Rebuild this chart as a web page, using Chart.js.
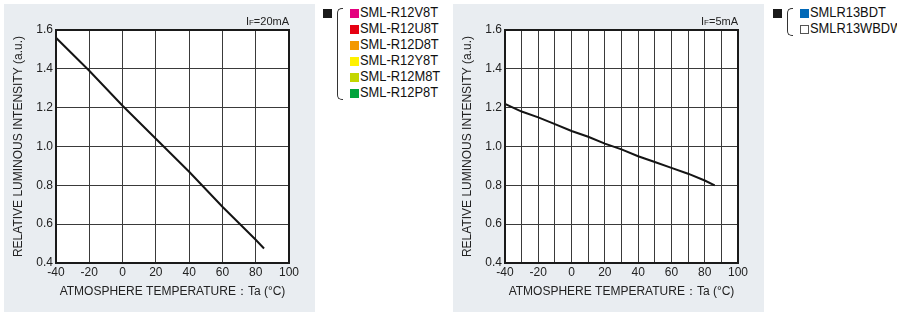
<!DOCTYPE html>
<html><head><meta charset="utf-8">
<script src="https://cdn.jsdelivr.net/npm/chart.js@4/dist/chart.umd.min.js"></script>
<style>
html,body{margin:0;padding:0;background:#fff;width:897px;height:314px;overflow:hidden;position:relative;font-family:"Liberation Sans",Arial,sans-serif;}
.panel{position:absolute;background:#e9edf1;}
.panel canvas{display:block;}
.legend{position:absolute;font-size:14px;color:#111;}
.legend .row{position:absolute;white-space:nowrap;height:16px;line-height:16px;transform:scaleX(0.92);transform-origin:left center;}
.sq{position:absolute;width:9px;height:9px;}
.bracket{position:absolute;border:1px solid #333;border-right:none;border-radius:5px 0 0 5px;width:5px;}
</style></head><body>
<div class="panel" style="left:4px;top:4px;width:311px;height:308px;"><canvas id="c1" width="311" height="308"></canvas></div>
<div class="panel" style="left:453px;top:4px;width:311px;height:308px;"><canvas id="c2" width="311" height="308"></canvas></div>
<div id="leg1" class="legend" style="left:0;top:0;"></div>
<div id="leg2" class="legend" style="left:0;top:0;"></div>
<script>
// ---- data ----
const tempsA = [-40, -20, 0, 20, 40, 60, 80, 85];
const intensityA = [1.56, 1.39, 1.21, 1.04, 0.87, 0.69, 0.52, 0.475];
const tempsB = [-40, -30, -20, -10, 0, 10, 20, 30, 40, 50, 60, 70, 80, 86];
const intensityB = [1.22, 1.18, 1.15, 1.115, 1.08, 1.05, 1.015, 0.985, 0.95, 0.92, 0.89, 0.86, 0.825, 0.80];
const xTickLabels = [-40, -20, 0, 20, 40, 60, 80, 100];
const xGridA = [-40, -20, 0, 20, 40, 60, 80, 100];
const xGridB = [-40, -30, -20, -10, 0, 10, 20, 30, 40, 50, 60, 70, 80, 90, 100];
const yTickLabels = [0.4, 0.6, 0.8, 1.0, 1.2, 1.4, 1.6];
const legendA = ['SML-R12V8T', 'SML-R12U8T', 'SML-R12D8T', 'SML-R12Y8T', 'SML-R12M8T', 'SML-R12P8T'];
const legendAColors = ['#e4007f', '#e60012', '#f39800', '#fff100', '#c3d600', '#00a43c'];
const legendB = ['SMLR13BDT', 'SMLR13WBDW'];
const legendBColors = ['#0068b7', '#ffffff'];
const currentA = ['I', 'F', '=20mA'];
const currentB = ['I', 'F', '=5mA'];
const xTitle = 'ATMOSPHERE TEMPERATURE\uFF1ATa (\u00B0C)';
const yTitle = 'RELATIVE LUMINOUS INTENSITY (a.u.)';

const FONT = '"Liberation Sans", Arial, sans-serif';

const framePlugin = {
  id: 'frame',
  beforeDraw(chart) {
    const a = chart.chartArea, ctx = chart.ctx;
    ctx.save(); ctx.fillStyle = '#ffffff';
    ctx.fillRect(a.left, a.top, a.right - a.left, a.bottom - a.top);
    ctx.restore();
  },
  afterDraw(chart) {
    const a = chart.chartArea, ctx = chart.ctx;
    ctx.save(); ctx.strokeStyle = '#1a1a1a'; ctx.lineWidth = 2;
    ctx.strokeRect(a.left, a.top, a.right - a.left, a.bottom - a.top);
    const parts = chart.options.plugins.frame.label;
    ctx.fillStyle = '#222'; ctx.textBaseline = 'alphabetic';
    ctx.font = '11px ' + FONT;
    const w0 = ctx.measureText(parts[0]).width;
    const w2 = ctx.measureText(parts[2]).width;
    ctx.font = '8px ' + FONT;
    const w1 = ctx.measureText(parts[1]).width;
    let x = a.right - (w0 + w1 + w2);
    const y = a.top - 5;
    ctx.font = '11px ' + FONT; ctx.textAlign = 'left';
    ctx.fillText(parts[0], x, y); x += w0;
    ctx.font = '8px ' + FONT; ctx.fillText(parts[1], x, y); x += w1;
    ctx.font = '11px ' + FONT; ctx.fillText(parts[2], x, y);
    ctx.restore();
  }
};

function makeChart(id, xs, ys, grid, label) {
  return new Chart(document.getElementById(id), {
    type: 'line',
    data: { datasets: [{ data: xs.map((x, i) => ({ x: x, y: ys[i] })), borderColor: '#141414', borderWidth: 2, pointRadius: 0, tension: 0, fill: false }] },
    options: {
      responsive: false, animation: false, events: [],
      layout: { padding: { left: 3, right: 26, top: 26, bottom: 9 } },
      plugins: { legend: { display: false }, tooltip: { enabled: false }, frame: { label: label } },
      scales: {
        x: {
          type: 'linear', min: -40, max: 100,
          afterBuildTicks: s => { s.ticks = grid.map(v => ({ value: v })); },
          afterFit: s => { s.height = 40; },
          grid: { color: '#3a3a3a', lineWidth: 1, drawTicks: false },
          border: { display: false },
          ticks: { color: '#222', font: { size: 12, family: FONT }, padding: 2, maxRotation: 0, autoSkip: false,
                   callback: v => xTickLabels.includes(v) ? String(v) : '' },
          title: { display: true, text: xTitle, color: '#222', font: { size: 12, family: FONT }, padding: { top: 4 } }
        },
        y: {
          type: 'linear', min: 0.4, max: 1.6,
          afterBuildTicks: s => { s.ticks = yTickLabels.map(v => ({ value: v })); },
          afterFit: s => { s.width = 49; },
          grid: { color: '#3a3a3a', lineWidth: 1, drawTicks: false },
          border: { display: false },
          ticks: { color: '#222', font: { size: 12, family: FONT }, padding: 3, callback: v => v.toFixed(1) },
          title: { display: true, text: yTitle, color: '#222', font: { size: 12, family: FONT }, padding: { bottom: 4 } }
        }
      }
    },
    plugins: [framePlugin]
  });
}
makeChart('c1', tempsA, intensityA, xGridA, currentA);
makeChart('c2', tempsB, intensityB, xGridB, currentB);

function buildLegend(el, left, names, colors) {
  let html = '<div class="sq" style="left:' + left + 'px;top:9px;background:#1a1a1a;"></div>';
  const bh = (names.length - 1) * 16 + 10;
  html += '<div class="bracket" style="left:' + (left + 14) + 'px;top:8px;height:' + bh + 'px;"></div>';
  names.forEach((n, i) => {
    const top = 4 + i * 16;
    const border = colors[i] === '#ffffff' ? 'border:1px solid #555;width:7px;height:7px;' : '';
    html += '<div class="sq" style="left:' + (left + 27) + 'px;top:' + (top + 5) + 'px;background:' + colors[i] + ';' + border + '"></div>';
    html += '<div class="row" style="left:' + (left + 37) + 'px;top:' + top + 'px;">' + n + '</div>';
  });
  el.innerHTML = html;
}
buildLegend(document.getElementById('leg1'), 323, legendA, legendAColors);
buildLegend(document.getElementById('leg2'), 773, legendB, legendBColors);
</script>
</body></html>
